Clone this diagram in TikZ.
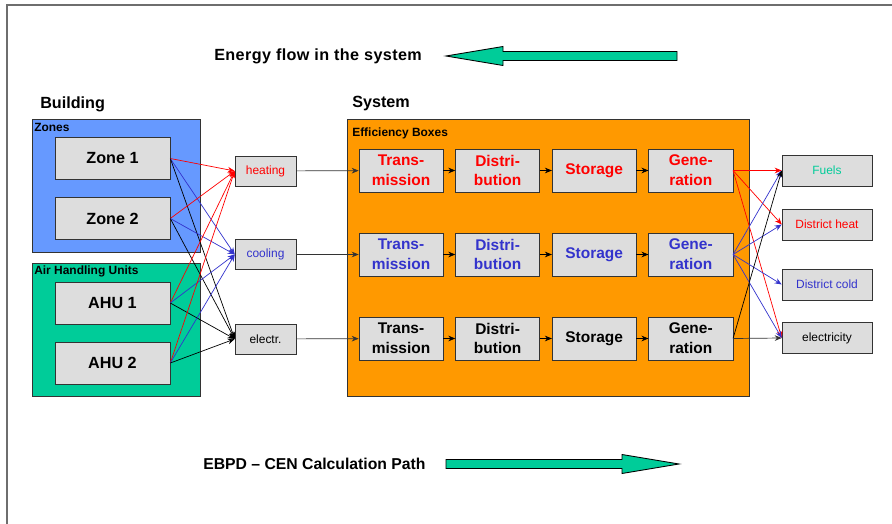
\documentclass[tikz,border=0pt]{standalone}
\usepackage{fontspec}
\setmainfont{Liberation Sans}
\usetikzlibrary{arrows.meta,positioning}
\definecolor{zoneblue}{RGB}{102,153,255}
\definecolor{ahugreen}{RGB}{0,204,153}
\definecolor{sysorange}{RGB}{255,153,0}
\definecolor{boxgray}{RGB}{221,221,221}
\definecolor{heatred}{RGB}{255,0,0}
\definecolor{coolblue}{RGB}{51,51,204}
\definecolor{edgegray}{RGB}{51,51,51}
\definecolor{framegray}{RGB}{110,110,110}

\tikzset{
  unitbox/.style={draw=edgegray, fill=boxgray, minimum width=2.875cm, minimum height=1.05cm,
    font=\fontsize{11.5}{14}\selectfont\bfseries},
  carrier/.style={draw=edgegray, fill=boxgray, minimum width=1.525cm, minimum height=0.75cm,
    font=\fontsize{8.5}{10}\selectfont},
  effbox/.style={draw=edgegray, fill=boxgray, minimum width=2.1cm, minimum height=1.075cm,
    align=center, inner sep=1pt, font=\fontsize{11}{14}\selectfont\bfseries},
  supply/.style={draw=edgegray, fill=boxgray, minimum width=2.25cm, minimum height=0.775cm,
    font=\fontsize{8.5}{10}\selectfont},
  flow/.style={-{Stealth[length=5pt,width=4pt]}, line width=0.5pt},
  grouplabel/.style={font=\fontsize{8.5}{10}\selectfont\bfseries, anchor=west, inner sep=0pt},
  titlelbl/.style={font=\fontsize{11.5}{14}\selectfont\bfseries, anchor=west, inner sep=0pt},
  bigarrow/.style={draw=black, fill=ahugreen, line width=0.6pt, line join=miter}
}

\begin{document}
\begin{tikzpicture}[x=0.025cm, y=-0.025cm, node distance=0.3cm]
\useasboundingbox (0,0) rectangle (892,524);
% -- Frame --
\draw[framegray, line width=1.2pt] (7,524) -- (7,5) -- (892,5);
% -- Top: energy flow --
\node[titlelbl, font=\fontsize{11.5}{14}\selectfont\bfseries\addfontfeature{LetterSpace=2.5}]
  (energylbl) at (214,56) {Energy flow in the system};
\filldraw[bigarrow] (446,56) -- (503,46.5) -- (503,51.5) -- (677,51.5)
  -- (677,60.5) -- (503,60.5) -- (503,65.5) -- cycle;
% -- Building side --
\node[titlelbl] (buildlbl) at (40,104) {Building};
\filldraw[fill=zoneblue, draw=edgegray] (32,119) rectangle (200,252);
\node[grouplabel] (zoneslbl) at (34,127) {Zones};
\filldraw[fill=ahugreen, draw=edgegray] (32,263) rectangle (200,396);
\node[grouplabel] (ahulbl) at (34,271) {Air Handling Units};
\node[unitbox] (zone1) at (112.5,158.5) {Zone 1};
\node[unitbox] (zone2) at (112.5,218.5) {Zone 2};
\node[unitbox] (ahu1) at (112.5,303) {AHU 1};
\node[unitbox] (ahu2) at (112.5,363) {AHU 2};
% Energy carriers
\node[carrier, text=heatred] (heat) at (265.5,171) {heating};
\node[carrier, text=coolblue] (cool) at (265.5,254.5) {cooling};
\node[carrier] (elec) at (265.5,339) {electr.};
\foreach \s in {zone1,zone2,ahu1,ahu2} {
  \draw[flow, heatred] (\s.east) -- (heat.west);
  \draw[flow, coolblue] (\s.east) -- (cool.west);
  \draw[flow] (\s.east) -- (elec.west);
}
% -- System side --
\node[titlelbl] (syslbl) at (352,104) {System};
\filldraw[fill=sysorange, draw=edgegray] (347,119) rectangle (749,396);
\node[grouplabel] (efflbl) at (352,133) {Efficiency Boxes};
\foreach \r/\y/\c in {1/170.5/heatred, 2/254.5/coolblue, 3/338.5/black} {
  \node[effbox, text=\c] (trans\r) at (401,\y) {Trans-\\mission};
  \node[effbox, text=\c, right=of trans\r] (distr\r) {Distri-\\bution};
  \node[effbox, text=\c, right=of distr\r] (stor\r) {Storage};
  \node[effbox, text=\c, right=of stor\r] (gen\r) {Gene-\\ration};
  \draw[flow] (trans\r) -- (distr\r);
  \draw[flow] (distr\r) -- (stor\r);
  \draw[flow] (stor\r) -- (gen\r);
}
\draw[flow, edgegray] (heat) -- (trans1);
\draw[flow, edgegray] (cool) -- (trans2);
\draw[flow, edgegray] (elec) -- (trans3);
% -- Supplies --
\node[supply, text=ahugreen] (fuels) at (827,170.5) {Fuels};
\node[supply, text=heatred] (dheat) at (827,224.5) {District heat};
\node[supply, text=coolblue] (dcold) at (827,284.5) {District cold};
\node[supply] (elecout) at (827,338) {electricity};
\foreach \t in {fuels,dheat,elecout}
  \draw[flow, heatred] (gen1.east) -- (\t.west);
\foreach \t in {fuels,dheat,dcold,elecout}
  \draw[flow, coolblue] (gen2.east) -- (\t.west);
\draw[flow] (gen3.east) -- (fuels.west);
\draw[flow, edgegray] (gen3.east) -- (elecout.west);
% -- Bottom: calculation path --
\node[titlelbl, font=\fontsize{11.2}{14}\selectfont\bfseries] (calclbl) at (203,464)
  {EBPD -- CEN Calculation Path};
\filldraw[bigarrow] (679,464) -- (622,454.5) -- (622,459.5) -- (446,459.5)
  -- (446,468.5) -- (622,468.5) -- (622,473.5) -- cycle;
\end{tikzpicture}
\end{document}
